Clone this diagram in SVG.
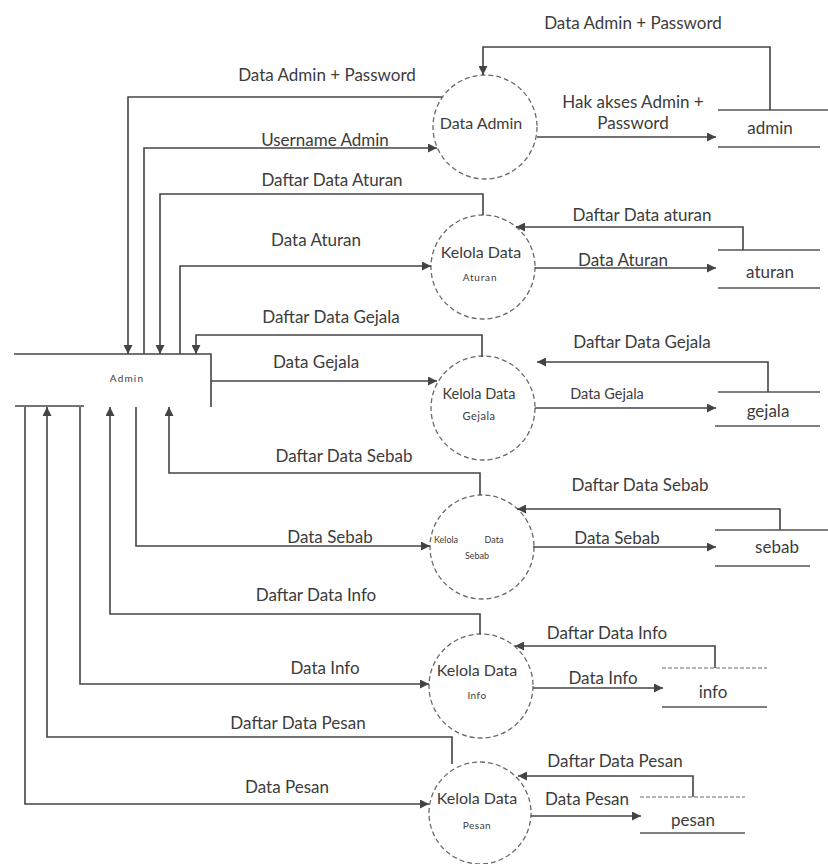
<svg xmlns="http://www.w3.org/2000/svg" width="828" height="864" viewBox="0 0 828 864">
  <style>
    .bg { fill: #ffffff; }
    .flow { fill: none; stroke: #444444; stroke-width: 1.6; marker-end: url(#arrow); }
    .plain { fill: none; stroke: #444444; stroke-width: 1.6; }
    .proc { fill: #ffffff; stroke: #6a6a6a; stroke-width: 1.3; stroke-dasharray: 5 3; }
    .store { stroke: #555555; stroke-width: 1.5; }
    .store-faint { stroke: #9a9a9a; stroke-width: 1.3; stroke-dasharray: 4 2; }
    .lbl { font-family: Lato, "Liberation Sans", sans-serif; font-size: 17px; fill: #3c3c3c; text-anchor: middle; }
    .sm { font-size: 14.5px; }
    .pt { font-family: Lato, "Liberation Sans", sans-serif; fill: #3c3c3c; text-anchor: middle; }
  </style>
  <defs>
    <marker id="arrow" viewBox="0 0 10 10" refX="10" refY="5" markerWidth="11" markerHeight="9" markerUnits="userSpaceOnUse" orient="auto">
      <path d="M0,0 L10,5 L0,10 Z" fill="#444444"/>
    </marker>
  </defs>
  <rect class="bg" x="0" y="0" width="828" height="864"/>

  <!-- external entity -->
  <g id="admin-entity">
    <path class="plain" d="M14,354 H211 V407"/>
    <path class="plain" d="M15,406 H84"/>
    <text class="pt" x="127" y="382" font-size="10" letter-spacing="1.2">Admin</text>
  </g>

  <!-- processes -->
  <g id="p-data-admin">
    <circle class="proc" cx="485" cy="127" r="52"/>
    <text class="pt" x="481" y="129" font-size="16">Data Admin</text>
  </g>
  <g id="p-aturan">
    <circle class="proc" cx="483" cy="267" r="52"/>
    <text class="pt" x="481" y="258" font-size="16">Kelola Data</text>
    <text class="pt" x="480" y="281" font-size="10" letter-spacing="0.8">Aturan</text>
  </g>
  <g id="p-gejala">
    <circle class="proc" cx="483" cy="408" r="52"/>
    <text class="pt" x="479" y="399" font-size="14.5">Kelola Data</text>
    <text class="pt" x="479" y="420" font-size="11" letter-spacing="0.5">Gejala</text>
  </g>
  <g id="p-sebab">
    <circle class="proc" cx="482" cy="547" r="52"/>
    <text class="pt" x="446" y="543" font-size="9">Kelola</text>
    <text class="pt" x="494" y="543" font-size="9">Data</text>
    <text class="pt" x="477" y="559" font-size="9">Sebab</text>
  </g>
  <g id="p-info">
    <circle class="proc" cx="481" cy="686" r="52"/>
    <text class="pt" x="477" y="676" font-size="16">Kelola Data</text>
    <text class="pt" x="477" y="699" font-size="10" letter-spacing="0.5">Info</text>
  </g>
  <g id="p-pesan">
    <circle class="proc" cx="480" cy="813" r="51"/>
    <text class="pt" x="477" y="804" font-size="16">Kelola Data</text>
    <text class="pt" x="477" y="829" font-size="10" letter-spacing="0.5">Pesan</text>
  </g>

  <!-- data stores -->
  <g id="s-admin">
    <line class="store" x1="718" y1="110" x2="828" y2="110"/>
    <line class="store" x1="718" y1="147" x2="820" y2="147"/>
    <text class="lbl" x="770" y="134">admin</text>
  </g>
  <g id="s-aturan">
    <line class="store" x1="718" y1="250" x2="820" y2="250"/>
    <line class="store" x1="718" y1="288" x2="820" y2="288"/>
    <text class="lbl" x="770" y="278">aturan</text>
  </g>
  <g id="s-gejala">
    <line class="store" x1="718" y1="392" x2="820" y2="392"/>
    <line class="store" x1="715" y1="426" x2="820" y2="426"/>
    <text class="lbl" x="768" y="417">gejala</text>
  </g>
  <g id="s-sebab">
    <line class="store" x1="715" y1="530" x2="828" y2="530"/>
    <line class="store" x1="715" y1="566" x2="810" y2="566"/>
    <text class="lbl" x="777" y="553">sebab</text>
  </g>
  <g id="s-info">
    <line class="store-faint" x1="662" y1="668" x2="767" y2="668"/>
    <line class="store" x1="662" y1="707" x2="767" y2="707"/>
    <text class="lbl" x="713" y="698">info</text>
  </g>
  <g id="s-pesan">
    <line class="store-faint" x1="640" y1="797" x2="745" y2="797"/>
    <line class="store" x1="640" y1="833" x2="745" y2="833"/>
    <text class="lbl" x="693" y="826">pesan</text>
  </g>

  <!-- data flows -->
  <g id="flows">
    <path class="flow" d="M442,97 H128 V354"/>
    <path class="flow" d="M144,354 V148 H437"/>
    <path class="flow" d="M483,215 V194 H160 V354"/>
    <path class="flow" d="M180,354 V266 H431"/>
    <path class="flow" d="M482,357 V335 H196 V354"/>
    <path class="flow" d="M211,381 H437"/>
    <path class="flow" d="M480,495 V473 H169 V407"/>
    <path class="flow" d="M136,407 V546 H430"/>
    <path class="flow" d="M480,634 V614 H110 V407"/>
    <path class="flow" d="M80,407 V684 H429"/>
    <path class="flow" d="M452,764 V737 H47 V407"/>
    <path class="flow" d="M25,407 V804 H429"/>

    <path class="flow" d="M770,110 V47 H483 V75"/>
    <path class="flow" d="M537,137 H716"/>
    <path class="flow" d="M743,250 V227 H516"/>
    <path class="flow" d="M535,268 H716"/>
    <path class="flow" d="M768,392 V362 H537"/>
    <path class="flow" d="M535,408 H716"/>
    <path class="flow" d="M780,530 V509 H517"/>
    <path class="flow" d="M533,547 H716"/>
    <path class="flow" d="M715,668 V646 H515"/>
    <path class="flow" d="M533,688 H663"/>
    <path class="flow" d="M693,797 V776 H518"/>
    <path class="flow" d="M531,816 H641"/>
  </g>

  <!-- flow labels -->
  <g id="flow-labels">
    <text class="lbl" x="633" y="29">Data Admin + Password</text>
    <text class="lbl" x="327" y="81">Data Admin + Password</text>
    <text class="lbl" x="633" y="108">Hak akses Admin +</text>
    <text class="lbl" x="633" y="129">Password</text>
    <text class="lbl" x="325" y="146">Username Admin</text>
    <text class="lbl" x="332" y="186">Daftar Data Aturan</text>
    <text class="lbl" x="642" y="221">Daftar Data aturan</text>
    <text class="lbl" x="316" y="246">Data Aturan</text>
    <text class="lbl" x="623" y="266">Data Aturan</text>
    <text class="lbl" x="331" y="323">Daftar Data Gejala</text>
    <text class="lbl" x="316" y="368">Data Gejala</text>
    <text class="lbl" x="642" y="348">Daftar Data Gejala</text>
    <text class="lbl sm" x="607" y="399">Data Gejala</text>
    <text class="lbl" x="344" y="462">Daftar Data Sebab</text>
    <text class="lbl" x="330" y="543">Data Sebab</text>
    <text class="lbl" x="640" y="491">Daftar Data Sebab</text>
    <text class="lbl" x="617" y="544">Data Sebab</text>
    <text class="lbl" x="316" y="601">Daftar Data Info</text>
    <text class="lbl" x="325" y="674">Data Info</text>
    <text class="lbl" x="607" y="639">Daftar Data Info</text>
    <text class="lbl" x="603" y="684">Data Info</text>
    <text class="lbl" x="298" y="729">Daftar Data Pesan</text>
    <text class="lbl" x="287" y="793">Data Pesan</text>
    <text class="lbl" x="615" y="767">Daftar Data Pesan</text>
    <text class="lbl" x="587" y="805">Data Pesan</text>
  </g>
</svg>
